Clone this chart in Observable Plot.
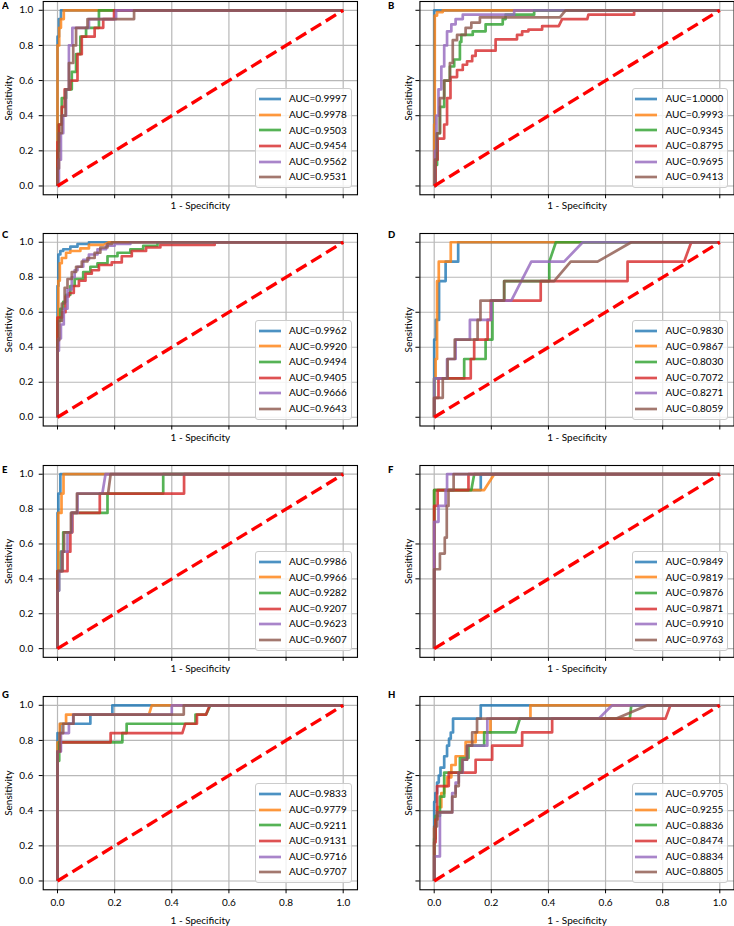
<!DOCTYPE html>
<html>
<head>
<meta charset="utf-8">
<script src="https://cdn.jsdelivr.net/npm/d3@7"></script>
<script src="https://cdn.jsdelivr.net/npm/@observablehq/plot@0.6"></script>
<style>
  html, body { margin: 0; padding: 0; background: #fff; }
  #fig { position: relative; width: 734px; height: 926px; overflow: hidden; font-family: Lato, "DejaVu Sans", sans-serif; color: #000; }
  .panel { position: absolute; }
  .panel svg { overflow: visible; }
  .legend { position: absolute; box-sizing: border-box; border: 1px solid #cccccc; border-radius: 3px;
            background: rgba(255,255,255,0.8); padding: 2px 4px 2px 2.5px; font-size: 10px; }
  .lrow { display: flex; align-items: center; height: 15.6px; line-height: 15.6px; white-space: nowrap; }
  .lrow svg { margin-right: 8px; flex: none; }
</style>
</head>
<body>
<div id="fig"></div>
<script>
// ---------- data ----------
// each series: list of [fpr, tpr] points; curve moves right to fpr then up to tpr
// (a third element 1 means a straight diagonal segment to that point)
const ticks = [0, 0.2, 0.4, 0.6, 0.8, 1];
const tickLabels = ["0.0", "0.2", "0.4", "0.6", "0.8", "1.0"];
const colors = ["#1f77b4", "#ff7f0e", "#2ca02c", "#d62728", "#9467bd", "#8c564b"];
const chance = [0, 1];
const panelNames = ["A", "B", "C", "D", "E", "F", "G", "H"];

const aucA = ["0.9997", "0.9978", "0.9503", "0.9454", "0.9562", "0.9531"];
const rocA = [
  [[0,0.85],[0.005,0.95],[0.012,1],[1,1]],
  [[0,0.8],[0.006,0.9],[0.012,0.95],[0.022,1],[1,1]],
  [[0,0.2],[0.005,0.35],[0.015,0.5],[0.03,0.55],[0.05,0.65],[0.065,0.75],[0.08,0.85],[0.1,0.9],[0.145,1],[1,1]],
  [[0,0.25],[0.005,0.35],[0.015,0.45],[0.025,0.55],[0.045,0.6],[0.07,0.75],[0.085,0.85],[0.13,0.9],[0.16,0.95],[0.198,1],[1,1]],
  [[0.005,0.15],[0.012,0.3],[0.02,0.4],[0.03,0.55],[0.04,0.8],[0.052,0.9],[0.11,0.95],[0.205,1],[1,1]],
  [[0,0.1],[0.005,0.3],[0.015,0.4],[0.028,0.55],[0.04,0.7],[0.055,0.8],[0.065,0.9],[0.105,0.95],[0.268,1],[1,1]]
];

const aucB = ["1.0000", "0.9993", "0.9345", "0.8795", "0.9695", "0.9413"];
const rocB = [
  [[0,1],[1,1]],
  [[0,0.35],[0.002,0.97],[0.01,0.99],[0.03,1],[1,1]],
  [[0.003,0.12],[0.01,0.3],[0.02,0.45],[0.035,0.6],[0.055,0.68],[0.07,0.72],[0.09,0.82],[0.095,0.86],[0.135,0.88],[0.18,0.92],[0.24,0.95],[0.25,0.975],[0.35,1],[1,1]],
  [[0.005,0.15],[0.012,0.27],[0.035,0.35],[0.045,0.5],[0.057,0.62],[0.08,0.66],[0.1,0.69],[0.115,0.71],[0.133,0.74],[0.145,0.77],[0.215,0.835],[0.29,0.86],[0.308,0.88],[0.33,0.89],[0.378,0.91],[0.436,0.91],[0.448,0.95,1],[0.536,0.95],[0.54,0.975,1],[0.70,1],[1,1]],
  [[0.002,0.2],[0.008,0.4],[0.015,0.55],[0.025,0.68],[0.035,0.8],[0.045,0.88],[0.06,0.92],[0.075,0.95],[0.1,0.975],[0.28,1],[1,1]],
  [[0.003,0.15],[0.01,0.3],[0.02,0.5],[0.035,0.6],[0.055,0.7],[0.065,0.83],[0.08,0.86],[0.11,0.9],[0.13,0.93],[0.16,0.96],[0.44,0.96],[0.46,1,1],[1,1]]
];

const aucC = ["0.9962", "0.9920", "0.9494", "0.9405", "0.9666", "0.9643"];
const rocC = [
  [[0,0.75],[0.003,0.93],[0.01,0.95],[0.02,0.96],[0.045,0.975],[0.07,0.99],[0.11,1],[1,1]],
  [[0,0.57],[0.003,0.78],[0.008,0.88],[0.015,0.91],[0.03,0.94],[0.045,0.95],[0.08,0.965],[0.11,0.985],[0.16,0.985],[0.18,1,1],[1,1]],
  [[0,0.55],[0.01,0.62],[0.02,0.66],[0.03,0.7],[0.045,0.75],[0.06,0.79],[0.09,0.83],[0.115,0.86],[0.14,0.88],[0.175,0.92],[0.21,0.94],[0.255,0.96],[0.3,0.98],[0.35,1],[1,1]],
  [[0,0.57],[0.017,0.6],[0.028,0.69],[0.04,0.71],[0.057,0.75],[0.075,0.78],[0.098,0.82],[0.12,0.84],[0.145,0.87],[0.19,0.885],[0.225,0.92],[0.26,0.95],[0.31,0.97],[0.36,0.985],[0.55,1],[1,1]],
  [[0,0.38],[0.005,0.45],[0.012,0.53],[0.022,0.62],[0.035,0.73],[0.05,0.8],[0.06,0.84],[0.07,0.86],[0.09,0.9],[0.11,0.93],[0.14,0.96],[0.17,0.98],[0.2,0.99],[0.255,1],[1,1]],
  [[0,0.44],[0.006,0.55],[0.015,0.65],[0.025,0.74],[0.035,0.79],[0.05,0.83],[0.065,0.86],[0.085,0.89],[0.105,0.91],[0.13,0.94],[0.15,0.97],[0.175,0.99],[0.19,1],[1,1]]
];

const aucD = ["0.9830", "0.9867", "0.8030", "0.7072", "0.8271", "0.8059"];
const rocD = [
  [[0,0.444],[0.006,0.556],[0.017,0.778],[0.04,0.889],[0.084,1],[1,1]],
  [[0,0.222],[0.005,0.333],[0.01,0.778],[0.016,0.889],[0.058,1],[1,1]],
  [[0,0.222],[0.105,0.333],[0.18,0.444],[0.204,0.667],[0.245,0.778],[0.403,0.889],[0.426,1,1],[1,1]],
  [[0,0.111],[0.015,0.222],[0.128,0.333],[0.14,0.444],[0.187,0.556],[0.198,0.667],[0.373,0.778],[0.677,0.889],[0.875,0.889],[0.9,1,1],[1,1]],
  [[0,0.222],[0.045,0.333],[0.075,0.444],[0.125,0.556],[0.2,0.667],[0.27,0.667],[0.34,0.889,1],[0.455,0.889],[0.52,1,1],[1,1]],
  [[0,0.111],[0.03,0.222],[0.047,0.333],[0.072,0.444],[0.152,0.556],[0.162,0.667],[0.245,0.778],[0.42,0.778],[0.478,0.889,1],[0.572,0.889],[0.69,1,1],[1,1]]
];

const aucE = ["0.9986", "0.9966", "0.9282", "0.9207", "0.9623", "0.9607"];
const rocE = [
  [[0,0.778],[0.003,0.889],[0.01,1],[1,1]],
  [[0,0.444],[0.003,0.778],[0.014,0.889],[0.021,1],[1,1]],
  [[0,0.333],[0.005,0.444],[0.012,0.556],[0.02,0.667],[0.05,0.778],[0.175,0.889],[0.37,1],[1,1]],
  [[0,0.444],[0.035,0.556],[0.045,0.667],[0.052,0.778],[0.148,0.889],[0.443,1],[1,1]],
  [[0,0.333],[0.006,0.444],[0.015,0.556],[0.035,0.667],[0.05,0.778],[0.07,0.889],[0.157,0.889],[0.168,1,1],[1,1]],
  [[0,0.444],[0.018,0.556],[0.023,0.667],[0.047,0.778],[0.068,0.889],[0.177,0.889],[0.186,1,1],[1,1]]
];

const aucF = ["0.9849", "0.9819", "0.9876", "0.9871", "0.9910", "0.9763"];
const rocF = [
  [[0,0.909],[0.163,1],[1,1]],
  [[0,0.909],[0.175,0.909],[0.21,1,1],[1,1]],
  [[0,0.909],[0.13,0.909],[0.14,1,1],[1,1]],
  [[0,0.818],[0.012,0.909],[0.12,1],[1,1]],
  [[0,0.727],[0.015,0.818],[0.04,0.909],[0.045,1],[1,1]],
  [[0,0.455],[0.02,0.545],[0.037,0.636],[0.044,0.818],[0.05,0.909],[0.068,1],[1,1]]
];

const aucG = ["0.9833", "0.9779", "0.9211", "0.9131", "0.9716", "0.9707"];
const rocG = [
  [[0,0.842],[0.01,0.895],[0.115,0.947],[0.192,1],[1,1]],
  [[0,0.789],[0.008,0.895],[0.03,0.947],[0.32,0.947],[0.33,1,1],[1,1]],
  [[0,0.684],[0.006,0.789],[0.227,0.842],[0.242,0.895],[0.483,0.947],[0.52,0.947],[0.535,1,1],[1,1]],
  [[0,0.737],[0.01,0.789],[0.186,0.842],[0.437,0.842],[0.447,0.895,1],[0.488,0.947],[0.52,0.947],[0.533,1,1],[1,1]],
  [[0,0.737],[0.012,0.842],[0.04,0.895],[0.055,0.947],[0.4,1],[1,1]],
  [[0,0.737],[0.008,0.842],[0.02,0.895],[0.056,0.947],[0.442,1],[1,1]]
];

const aucH = ["0.9705", "0.9255", "0.8836", "0.8474", "0.8834", "0.8805"];
const rocH = [
  [[0,0.45],[0.004,0.5],[0.01,0.56],[0.016,0.6],[0.022,0.645],[0.035,0.71],[0.045,0.77],[0.052,0.81],[0.058,0.845],[0.066,0.924],[0.163,1],[1,1]],
  [[0,0.3],[0.005,0.35],[0.012,0.42],[0.025,0.5],[0.035,0.54],[0.045,0.59],[0.06,0.66],[0.075,0.71],[0.11,0.79],[0.145,0.846],[0.197,0.924],[0.337,1],[1,1]],
  [[0,0.24],[0.005,0.37],[0.02,0.48],[0.035,0.617],[0.09,0.7],[0.12,0.77],[0.175,0.846],[0.285,0.846],[0.3,0.924,1],[0.685,0.924],[0.69,1,1],[1,1]],
  [[0,0.22],[0.005,0.35],[0.01,0.54],[0.051,0.617],[0.145,0.69],[0.203,0.77],[0.308,0.846],[0.413,0.924],[0.81,0.924],[0.827,1,1],[1,1]],
  [[0,0.14],[0.02,0.39],[0.063,0.5],[0.075,0.56],[0.086,0.617],[0.1,0.69],[0.115,0.77],[0.186,0.924],[0.576,0.924],[0.623,1,1],[1,1]],
  [[0,0.31],[0.01,0.39],[0.063,0.48],[0.075,0.54],[0.086,0.617],[0.098,0.69],[0.115,0.77],[0.133,0.846],[0.15,0.924],[0.636,0.924],[0.747,1,1],[1,1]]
];

const rocs = [rocA, rocB, rocC, rocD, rocE, rocF, rocG, rocH];
const aucs = [aucA, aucB, aucC, aucD, aucE, aucF, aucG, aucH];

// ---------- layout ----------
const cols = [
  {left: 0,   x0: 57,    x1: 342.7, yTitle: 8.5, lab: 2},
  {left: 367, x0: 433.7, x1: 719.3, yTitle: 408, lab: 387.5}
];
const rows = [
  {y1: 9.3,   y0: 185,   lab: 8.5},
  {y1: 241.7, y0: 416.7, lab: 237.7},
  {y1: 473.3, y0: 647.7, lab: 473.3},
  {y1: 704.3, y0: 880,   lab: 698.3}
];

function expand(steps) {
  const pts = [{x: 0, y: 0}];
  let cx = 0, cy = 0;
  for (const [x, y, diag] of steps) {
    if (!diag && x !== cx) pts.push({x, y: cy});
    pts.push({x, y});
    cx = x; cy = y;
  }
  return pts;
}

const fig = document.getElementById("fig");
const PW = 367;

panelNames.forEach((name, idx) => {
  const c = cols[idx % 2];
  const r = rows[Math.floor(idx / 2)];
  const rowIdx = Math.floor(idx / 2);
  const unitX = c.x1 - c.x0, unitY = r.y0 - r.y1;
  const fl = c.x0 - 0.05 * unitX, fr = c.x1 + 0.05 * unitX;
  const ft = r.y1 - 0.05 * unitY, fb = r.y0 + 0.05 * unitY;
  const mt = 6;
  const mb = rowIdx === 3 ? 42 : 30;
  const H = mt + (fb - ft) + mb;
  const showX = rowIdx === 3, showY = idx % 2 === 0;
  const fmtX = showX ? (d => tickLabels[ticks.indexOf(d)]) : (() => "");
  const fmtY = showY ? (d => tickLabels[ticks.indexOf(d)]) : (() => "");

  const lines = rocs[idx].map((s, i) => Plot.line(expand(s), {
    x: "x", y: "y", stroke: colors[i], strokeWidth: 2.7, strokeOpacity: 0.8,
    strokeLinejoin: "round", strokeLinecap: "butt"
  }));

  const plot = Plot.plot({
    width: PW, height: H,
    marginLeft: fl - c.left, marginRight: c.left + PW - fr,
    marginTop: mt, marginBottom: mb,
    x: {domain: [-0.05, 1.05]},
    y: {domain: [-0.05, 1.05]},
    style: {fontFamily: "Lato, 'DejaVu Sans', sans-serif", fontSize: "10px", color: "#000", background: "transparent", overflow: "visible"},
    marks: [
      Plot.gridX(ticks, {stroke: "#b8b8b8", strokeOpacity: 1, strokeWidth: 1.2}),
      Plot.gridY(ticks, {stroke: "#b8b8b8", strokeOpacity: 1, strokeWidth: 1.2}),
      Plot.axisX(ticks, {tickSize: 4, tickPadding: 5, tickFormat: fmtX, label: null}),
      Plot.axisY(ticks, {tickSize: 4, tickPadding: 6, tickFormat: fmtY, label: null}),
      ...lines,
      Plot.line(chance.map(v => ({x: v, y: v})), {x: "x", y: "y", stroke: "#ff0000", strokeWidth: 3.3, strokeDasharray: "12,5.5", strokeLinecap: "butt"}),
      Plot.frame({stroke: "#000", strokeWidth: 1.1}),
      Plot.text(["1 - Specificity"], {text: d => d, frameAnchor: "bottom", lineAnchor: "middle", textAnchor: "middle", dy: showX ? 31.2 : 11.3}),
      Plot.text(["Sensitivity"], {text: d => d, frameAnchor: "left", lineAnchor: "middle", textAnchor: "middle", rotate: -90, dx: -(fl - c.yTitle)})
    ]
  });

  const div = document.createElement("div");
  div.className = "panel";
  div.style.left = c.left + "px";
  div.style.top = (ft - mt) + "px";
  div.style.width = PW + "px";
  div.style.height = H + "px";
  div.appendChild(plot);

  const leg = document.createElement("div");
  leg.className = "legend";
  leg.style.right = (c.left + PW - fr + 5.3) + "px";
  leg.style.bottom = (mb + 5.8) + "px";
  aucs[idx].forEach((a, i) => {
    const row = document.createElement("div");
    row.className = "lrow";
    row.innerHTML = `<svg width="22" height="6"><line x1="0" y1="3" x2="22" y2="3" stroke="${colors[i]}" stroke-width="2.7" stroke-opacity="0.8"/></svg><span>AUC=${a}</span>`;
    leg.appendChild(row);
  });
  div.appendChild(leg);
  fig.appendChild(div);

  const lab = document.createElementNS("http://www.w3.org/2000/svg", "svg");
  lab.setAttribute("width", 20); lab.setAttribute("height", 14);
  lab.style.position = "absolute";
  lab.style.left = c.lab + "px";
  lab.style.top = (r.lab - 11) + "px";
  lab.innerHTML = `<text x="0" y="11" font-family="Lato, 'DejaVu Sans', sans-serif" font-weight="900" font-size="9.5">${name}</text>`;
  fig.appendChild(lab);
});
</script>
</body>
</html>
